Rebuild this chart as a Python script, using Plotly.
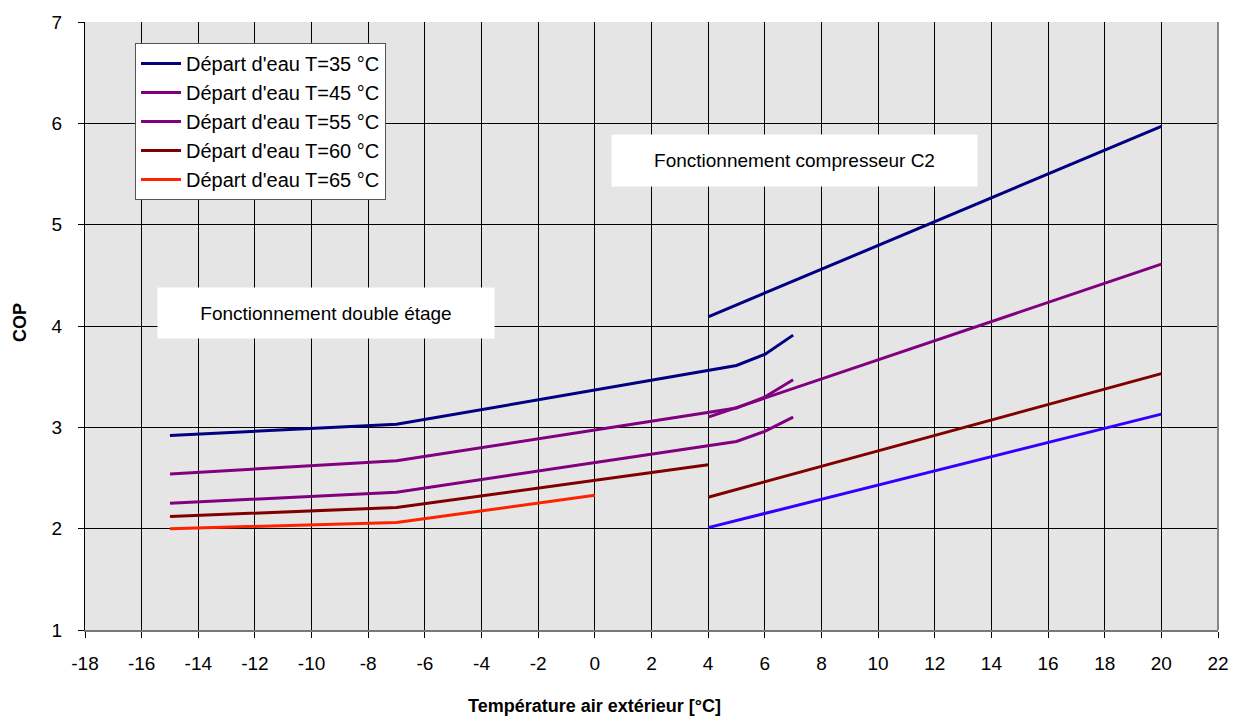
import plotly.graph_objects as go

# ---- data ----
# Fonctionnement double étage (legend series)
x35 = [-15, -7, 5, 6, 7]
y35 = [2.92, 3.03, 3.61, 3.72, 3.91]
x45 = [-15, -7, 5, 6, 7]
y45 = [2.54, 2.67, 3.19, 3.30, 3.47]
x55 = [-15, -7, 5, 6, 7]
y55 = [2.25, 2.36, 2.86, 2.96, 3.10]
x60 = [-15, -7, 4]
y60 = [2.12, 2.21, 2.63]
x65 = [-15, -7, 0]
y65 = [2.00, 2.06, 2.33]

# Fonctionnement compresseur C2 (no legend)
xc2 = [4, 20]
yc2_35 = [4.09, 5.97]
yc2_45 = [3.10, 4.61]
yc2_60 = [2.31, 3.53]
yc2_65 = [2.01, 3.13]

legend_names = ["Départ d'eau T=35 °C", "Départ d'eau T=45 °C", "Départ d'eau T=55 °C",
                "Départ d'eau T=60 °C", "Départ d'eau T=65 °C"]
colors = ["#000080", "#800080", "#800080", "#800000", "#ff2200"]
c2_colors = ["#000080", "#800080", "#800000", "#3300ff"]

xticks = list(range(-18, 23, 2))
yticks = list(range(1, 8))

FONT = "Liberation Sans, Arial, sans-serif"

# page body has an 8px margin: figure is drawn from (8, 8)
OFF = 8
W, H = 1241 - OFF, 720 - OFF
L, R, T, B = 85, 1218, 22, 630  # plot area in page pixels

fig = go.Figure()
for xs, ys, name, col in zip([x35, x45, x55, x60, x65], [y35, y45, y55, y60, y65], legend_names, colors):
    fig.add_trace(go.Scatter(x=xs, y=ys, mode="lines", name=name,
                             line=dict(color=col, width=3)))
for ys, col in zip([yc2_35, yc2_45, yc2_60, yc2_65], c2_colors):
    fig.add_trace(go.Scatter(x=xc2, y=ys, mode="lines", showlegend=False,
                             line=dict(color=col, width=3)))

fig.update_layout(
    width=W, height=H,
    margin=dict(l=L - OFF, r=1241 - R, t=T - OFF, b=720 - B, pad=0),
    paper_bgcolor="white", plot_bgcolor="#e5e5e5",
    font=dict(family=FONT, size=19, color="black"),
    showlegend=True,
    legend=dict(x=(135 - L) / (R - L), y=(B - 43) / (B - T), xanchor="left", yanchor="top",
                bgcolor="white", bordercolor="#555555", borderwidth=1,
                itemwidth=40,
                font=dict(family=FONT, size=20), tracegroupgap=0),
    xaxis=dict(range=[-18, 22], tickvals=xticks, ticktext=[str(v) for v in xticks],
               showgrid=True, gridcolor="black", gridwidth=1,
               ticks="outside", ticklen=6, tickcolor="black",
               showline=True, linecolor="#777777", linewidth=2,
               zeroline=False, ticklabelstandoff=9, automargin=False,
               tickfont=dict(family=FONT, size=19)),
    yaxis=dict(range=[1, 7], tickvals=yticks,
               showgrid=True, gridcolor="black", gridwidth=1,
               ticks="outside", ticklen=6, tickcolor="black",
               showline=True, linecolor="black", linewidth=1,
               zeroline=False, ticklabelstandoff=12, automargin=False,
               tickfont=dict(family=FONT, size=19)),
)
# right border of plot area
fig.add_shape(type="line", xref="paper", yref="paper", x0=1, x1=1, y0=0, y1=1,
              line=dict(color="#888888", width=2))

fig.add_annotation(text="Fonctionnement compresseur C2", x=7.05, y=5.63,
                   xref="x", yref="y", showarrow=False, bgcolor="white",
                   xanchor="center", yanchor="middle",
                   width=363, height=49, font=dict(family=FONT, size=19))
fig.add_annotation(text="Fonctionnement double étage", x=-9.49, y=4.13,
                   xref="x", yref="y", showarrow=False, bgcolor="white",
                   xanchor="center", yanchor="middle",
                   width=334, height=48, font=dict(family=FONT, size=19))
# axis titles, placed by page pixel centre
fig.add_annotation(text="<b>Température air extérieur [°C]</b>",
                   x=(594 - L) / (R - L), y=(B - 706) / (B - T),
                   xref="paper", yref="paper", showarrow=False,
                   xanchor="center", yanchor="middle",
                   font=dict(family=FONT, size=18))
fig.add_annotation(text="<b>COP</b>", textangle=-90,
                   x=(20 - L) / (R - L), y=(B - 323) / (B - T),
                   xref="paper", yref="paper", showarrow=False,
                   xanchor="center", yanchor="middle",
                   font=dict(family=FONT, size=18))

fig.write_html("out.html")
